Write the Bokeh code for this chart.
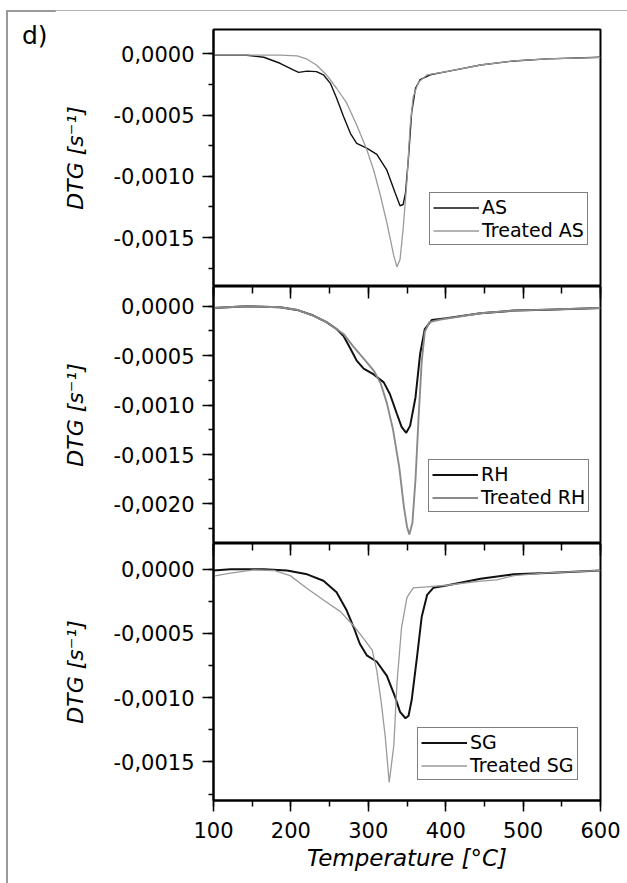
from bokeh.plotting import figure
from bokeh.layouts import column, row
from bokeh.models import (Range1d, SingleIntervalTicker, LinearAxis, CustomJSTickFormatter,
                          Legend, LegendItem, Div, CustomLabelingPolicy)
from bokeh.embed import file_html
from bokeh.resources import INLINE

# ---------------- data ----------------
AS_T = [100, 143, 165, 186, 203, 210, 221, 233, 242, 251, 259, 268, 277, 285, 298, 311, 324, 335,
        341, 345, 348, 352, 356, 361, 367, 380, 401, 445, 488, 531, 600]
AS_V = [-0.00001, -0.00001, -0.000027, -0.000076, -0.00013, -0.00015, -0.00014, -0.000144, -0.00017,
        -0.00024, -0.00036, -0.00051, -0.00065, -0.00073, -0.00077, -0.00082, -0.00095, -0.00114,
        -0.00124, -0.00123, -0.00114, -0.00084, -0.00048, -0.00028, -0.00021, -0.00017, -0.000144,
        -0.00009, -0.000057, -0.00004, -0.000027]

TAS_T = [100, 186, 208, 221, 233, 246, 259, 272, 285, 298, 307, 315, 324, 333, 337, 341, 345, 350,
         354, 358, 365, 376, 401, 445, 488, 531, 600]
TAS_V = [-0.00001, -0.00001, -0.000016, -0.000043, -0.00009, -0.00017, -0.00028, -0.0004, -0.00058,
         -0.00078, -0.00095, -0.00114, -0.00138, -0.00165, -0.00174, -0.00168, -0.00143, -0.00103,
         -0.00059, -0.00035, -0.00023, -0.00017, -0.000144, -0.00009, -0.000057, -0.00004, -0.000027]

RH_T = [100, 143, 186, 208, 229, 246, 259, 268, 277, 285, 294, 307, 320, 328, 337, 343, 349, 354,
        361, 367, 373, 382, 401, 445, 488, 531, 600]
RH_V = [-0.000017, 0.0, -0.00001, -0.000037, -0.000094, -0.00016, -0.00023, -0.0003, -0.00043,
        -0.00055, -0.00063, -0.00069, -0.00077, -0.00089, -0.00109, -0.00122, -0.00128, -0.00121,
        -0.00092, -0.00048, -0.00023, -0.00014, -0.00012, -0.00007, -0.000044, -0.000034, -0.000017]

TRH_T = [100, 143, 186, 208, 229, 246, 259, 268, 281, 294, 307, 316, 324, 332, 340, 346, 350, 353,
         357, 361, 365, 369, 373, 379, 393, 445, 488, 531, 600]
TRH_V = [-0.000017, 0.0, -0.00001, -0.000037, -0.000094, -0.00016, -0.00023, -0.00028, -0.00041,
         -0.00053, -0.00065, -0.00078, -0.00098, -0.00125, -0.00163, -0.00203, -0.00223, -0.00231,
         -0.00219, -0.00175, -0.00112, -0.00056, -0.00026, -0.00016, -0.000135, -0.00007, -0.000044,
         -0.000034, -0.000017]

SG_T = [100, 122, 165, 195, 221, 242, 259, 272, 281, 289, 298, 311, 324, 335, 341, 348, 352, 356,
        363, 369, 376, 384, 401, 445, 488, 531, 600]
SG_V = [-0.00001, 0.0, 0.0, -0.00001, -0.00004, -0.00009, -0.00018, -0.00032, -0.00045, -0.00058,
        -0.00067, -0.00072, -0.00083, -0.001, -0.00111, -0.00116, -0.00114, -0.00102, -0.00068,
        -0.00037, -0.0002, -0.000145, -0.000127, -0.000075, -0.00004, -0.000029, -0.00001]

TSG_T = [100, 122, 152, 178, 199, 221, 242, 264, 281, 294, 305, 311, 317, 322, 327, 333, 337, 343,
         350, 358, 380, 401, 445, 466, 488, 531, 600]
TSG_V = [-0.000054, -0.00003, -0.000005, -0.00001, -0.00005, -0.00015, -0.00024, -0.00033, -0.00044,
         -0.00054, -0.00063, -0.00079, -0.00105, -0.00131, -0.00166, -0.00137, -0.00089, -0.00045,
         -0.00022, -0.000145, -0.000135, -0.000125, -0.000093, -0.000083, -0.00005, -0.000029, -0.00001]

X_RANGE = (100, 600)
Y_RANGES = [(-0.0019, 0.0002), (-0.0024, 0.0002), (-0.0018, 0.0002)]
LEGEND_LABELS = [("AS", "Treated AS"), ("RH", "Treated RH"), ("SG", "Treated SG")]
Y_TITLE = "DTG [s\u207b\u00b9]"
X_TITLE = "Temperature [\u00b0C]"
PANEL_TAG = "d)"

# ---------------- styling ----------------
FONT = "DejaVu Sans"
TOTAL_W, TOTAL_H = 627, 883
LEFT_W = 55                 # strip holding the panel tag and grey frame edge
W = TOTAL_W - LEFT_W
ML, MR = 213 - LEFT_W, 27
FRAME_H = 257
TOP_STRIP = 10
TOP_PAD = 29 - TOP_STRIP
BOTTOM_PAD = 83

fmt = CustomJSTickFormatter(code="""
if (Math.abs(tick) < 1e-12) { return "0,0000"; }
return tick.toFixed(4).replace(".", ",");
""")


def style_common(p):
    p.grid.visible = False
    p.outline_line_color = "black"
    p.outline_line_width = 2
    p.outline_line_alpha = 1.0


def make_panel(idx, height, border_top, border_bottom, show_bottom_axis):
    lo, hi = Y_RANGES[idx]
    p = figure(width=W, height=height, x_range=Range1d(*X_RANGE), y_range=Range1d(lo, hi),
               output_backend="svg", toolbar_location=None,
               x_axis_location=("below" if show_bottom_axis else None),
               min_border_left=ML, min_border_right=MR,
               min_border_top=border_top, min_border_bottom=border_bottom,
               background_fill_color="white", border_fill_color="white")
    style_common(p)

    ya = p.left[0]
    ya.ticker = SingleIntervalTicker(interval=0.0005, num_minor_ticks=2)
    ya.formatter = fmt
    ya.axis_label = Y_TITLE
    ya.axis_label_text_font = FONT
    ya.axis_label_text_font_style = "italic"
    ya.axis_label_text_font_size = "22px"
    ya.axis_label_text_color = "black"
    ya.axis_label_standoff = 22
    ya.major_label_text_font = FONT
    ya.major_label_text_font_size = "21px"
    ya.major_label_text_color = "black"
    ya.major_label_standoff = 8
    ya.major_tick_in = 0
    ya.major_tick_out = 11
    ya.minor_tick_in = 0
    ya.minor_tick_out = 5
    ya.axis_line_color = "black"
    ya.axis_line_width = 2
    ya.major_tick_line_color = "black"
    ya.major_tick_line_width = 1.5
    ya.minor_tick_line_color = "black"
    ya.minor_tick_line_width = 1.5

    if show_bottom_axis:
        xa = p.below[0]
        xa.ticker = SingleIntervalTicker(interval=100, num_minor_ticks=2)
        xa.major_tick_in = 0
        xa.major_tick_out = 11
        xa.minor_tick_in = 0
        xa.minor_tick_out = 6
        xa.axis_line_color = "black"
        xa.axis_line_width = 2
        xa.major_tick_line_color = "black"
        xa.major_tick_line_width = 1.5
        xa.minor_tick_line_color = "black"
        xa.minor_tick_line_width = 1.5
        xa.major_label_text_font = FONT
        xa.major_label_text_font_size = "21px"
        xa.major_label_text_color = "black"
        xa.major_label_standoff = 10
        xa.axis_label = X_TITLE
        xa.axis_label_text_font = FONT
        xa.axis_label_text_font_style = "italic"
        xa.axis_label_text_font_size = "23px"
        xa.axis_label_text_color = "black"
        xa.axis_label_standoff = 4

    if idx > 0:
        # inward ticks along the shared edge with the panel above (no labels)
        top_ax = LinearAxis(ticker=SingleIntervalTicker(interval=100, num_minor_ticks=2),
                            major_tick_in=12, major_tick_out=0, minor_tick_in=7, minor_tick_out=0,
                            major_label_text_font_size="0px", major_label_standoff=0,
                            major_label_policy=CustomLabelingPolicy(code="return new Set()"),
                            axis_line_color=None, major_tick_line_color="black",
                            major_tick_line_width=1.5, minor_tick_line_color="black",
                            minor_tick_line_width=1.5)
        p.add_layout(top_ax, "above")
    return p


p1 = make_panel(0, TOP_PAD + FRAME_H, TOP_PAD, 0, False)
p2 = make_panel(1, FRAME_H, 0, 0, False)
p3 = make_panel(2, FRAME_H + BOTTOM_PAD, 0, BOTTOM_PAD, True)

series = [
    (p1, AS_T, AS_V, TAS_T, TAS_V, 1.4, "#111111", 1.3, "#9a9a9a", (216, 41)),
    (p2, RH_T, RH_V, TRH_T, TRH_V, 2.0, "#111111", 1.9, "#8a8a8a", (215, 31)),
    (p3, SG_T, SG_V, TSG_T, TSG_V, 2.0, "#111111", 1.3, "#9a9a9a", (204, 20)),
]

for i, (p, xt, yv, txt, tyv, w1, c1, w2, c2, loc) in enumerate(series):
    r1 = p.line(xt, yv, line_color=c1, line_width=w1)
    r2 = p.line(txt, tyv, line_color=c2, line_width=w2)
    lab1, lab2 = LEGEND_LABELS[i]
    leg = Legend(items=[LegendItem(label=lab1, renderers=[r1]),
                        LegendItem(label=lab2, renderers=[r2])],
                 location=loc,
                 border_line_color="black", border_line_width=1,
                 background_fill_color="white", background_fill_alpha=1.0,
                 label_text_font=FONT, label_text_font_size="19px", label_text_color="black",
                 glyph_width=46, glyph_height=21, label_height=21, spacing=1,
                 padding=3, margin=0, label_standoff=3)
    p.add_layout(leg)

# top strip: grey top edge of the outer frame, across the full width
top_html = ('<div style="padding:8px 0 0 6px;margin:0;width:%dpx;height:%dpx;box-sizing:border-box;">'
            '<div style="margin:0;padding:0;width:%dpx;height:2px;background:#9a9a9a;"></div></div>'
            % (TOTAL_W, TOP_STRIP, TOTAL_W - 6))
top_div = Div(text=top_html, width=TOTAL_W, height=TOP_STRIP, margin=0)

# left strip: grey left edge of the outer frame and the panel tag
left_h = TOTAL_H - TOP_STRIP
left_html = (
    '<div style="position:relative;margin:0;padding:0;width:%dpx;height:%dpx;">'
    '<div style="position:absolute;left:6px;top:0px;width:2px;height:%dpx;background:#9a9a9a;"></div>'
    '<span style="position:absolute;left:22px;top:13px;font-family:\'DejaVu Sans\';'
    'font-size:25px;line-height:1;color:black;white-space:nowrap;">%s</span></div>'
    % (LEFT_W, left_h, left_h, PANEL_TAG)
)
left_div = Div(text=left_html, width=LEFT_W, height=left_h, margin=0)

layout = column(top_div, row(left_div, column(p1, p2, p3, spacing=0), spacing=0), spacing=0)
open("out.html", "w").write(file_html(layout, INLINE))
